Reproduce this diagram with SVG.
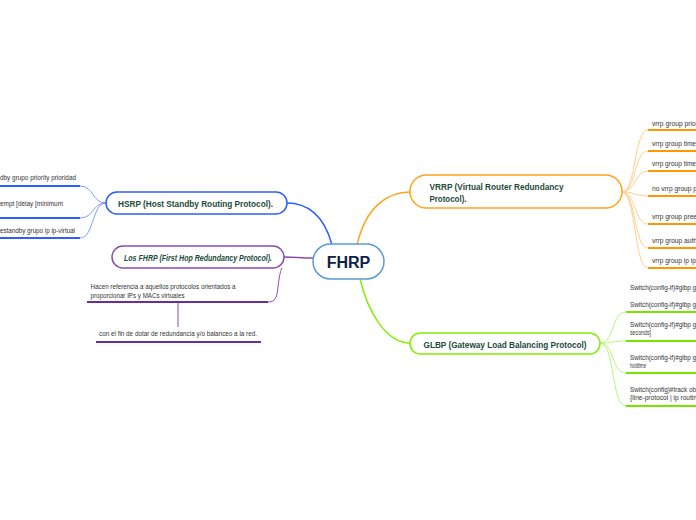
<svg xmlns="http://www.w3.org/2000/svg" width="696" height="520" viewBox="0 0 696 520">
<style>
.bg{fill:#ffffff}
.node{fill:#ffffff;stroke-width:1.5}
.t{font-family:"Liberation Sans",Arial,sans-serif;font-weight:bold;fill:#1b4a3a;font-size:9.5px}
.s{font-family:"Liberation Sans",Arial,sans-serif;fill:#333333;font-size:6.3px}
.ul{fill:none;stroke-width:2}
.c{fill:none;stroke-width:1.5}
.cc{fill:none;stroke-width:1}
</style>
<rect class="bg" x="0" y="0" width="696" height="520"/>
<g id="connectors">
  <path class="c" stroke="#2b5fff" d="M332,245 C324,214 306,203 287,203"/>
  <path class="c" stroke="#ffa31a" d="M357,245 C366,206 388,192 410,192"/>
  <path class="c" stroke="#8a4bb0" d="M313,258 C300,258 295,257 284,257"/>
  <path class="c" stroke="#80f000" d="M360,279 C368,312 386,343 410,343"/>
  <path class="cc" stroke="#7d9cff" d="M106,203 C92,203 94,186 80,186"/>
  <path class="cc" stroke="#7d9cff" d="M106,203 C92,203 94,218 80,218"/>
  <path class="cc" stroke="#7d9cff" d="M106,203 C92,203 94,238 80,238"/>
  <path class="cc" stroke="#ffcf8a" d="M622,192 C636,192 634,130 648,130"/>
  <path class="cc" stroke="#ffcf8a" d="M622,192 C636,192 634,151 648,151"/>
  <path class="cc" stroke="#ffcf8a" d="M622,192 C636,192 634,171 648,171"/>
  <path class="cc" stroke="#ffcf8a" d="M622,192 C636,192 634,196 648,196"/>
  <path class="cc" stroke="#ffcf8a" d="M622,192 C636,192 634,224 648,224"/>
  <path class="cc" stroke="#ffcf8a" d="M622,192 C636,192 634,248 648,248"/>
  <path class="cc" stroke="#ffcf8a" d="M622,192 C636,192 634,268 648,268"/>
  <path class="cc" stroke="#b4f77a" d="M600,343 C615,343 611,312 626,312"/>
  <path class="cc" stroke="#b4f77a" d="M600,343 C613,343 613,341 626,341"/>
  <path class="cc" stroke="#b4f77a" d="M600,343 C615,343 611,373 626,373"/>
  <path class="cc" stroke="#b4f77a" d="M600,343 C615,343 611,406 626,406"/>
  <path class="cc" stroke="#8a4bb0" d="M268,302 C276,302 277,296 278,287 C279,278 280,272 282,268"/>
  <path class="cc" stroke="#8a4bb0" d="M178,302 L178,327"/>
</g>
<g id="fhrp">
  <rect class="node" stroke="#5b9bd5" x="313" y="244" width="71" height="35" rx="17.5"/>
  <text x="348.5" y="268" text-anchor="middle" font-family="Liberation Sans, Arial, sans-serif" font-weight="bold" font-size="16" fill="#0e2247">FHRP</text>
</g>
<g id="hsrp">
  <rect class="node" stroke="#2b5fff" x="106" y="192" width="181" height="22" rx="11"/>
  <text class="t" x="118" y="206.5" textLength="155" lengthAdjust="spacingAndGlyphs">HSRP (Host Standby Routing Protocol).</text>
</g>
<g id="hsrp-c1">
  <text class="s" x="0" y="179.5" textLength="76" lengthAdjust="spacingAndGlyphs">dby grupo priority prioridad</text>
  <line class="ul" stroke="#2b5fff" x1="0" y1="186" x2="80" y2="186"/>
</g>
<g id="hsrp-c2">
  <text class="s" x="0" y="205.5" textLength="63" lengthAdjust="spacingAndGlyphs">empt [delay [minimum</text>
  <line class="ul" stroke="#2b5fff" x1="0" y1="218" x2="80" y2="218"/>
</g>
<g id="hsrp-c3">
  <text class="s" x="0" y="233" textLength="75" lengthAdjust="spacingAndGlyphs">estandby grupo ip ip-virtual</text>
  <line class="ul" stroke="#2b5fff" x1="0" y1="238" x2="80" y2="238"/>
</g>
<g id="los-fhrp">
  <rect class="node" stroke="#8a4bb0" x="112" y="246" width="172" height="22" rx="11"/>
  <text class="t" font-style="italic" x="124" y="261" textLength="148" lengthAdjust="spacingAndGlyphs">Los FHRP (First Hop Redundancy Protocol).</text>
</g>
<g id="hacen">
  <text class="s" x="90.5" y="289" textLength="145" lengthAdjust="spacingAndGlyphs">Hacen referencia a aquellos protocolos orientados a</text>
  <text class="s" x="90.5" y="297.5" textLength="94" lengthAdjust="spacingAndGlyphs">proporcionar IPs y MACs virtuales</text>
  <line class="ul" stroke="#6a2d9a" x1="87" y1="302" x2="268" y2="302"/>
</g>
<g id="con-el-fin">
  <text class="s" x="178" y="336" text-anchor="middle" textLength="158" lengthAdjust="spacingAndGlyphs">con el fin de dotar de redundancia y/o balanceo a la red.</text>
  <line class="ul" stroke="#6a2d9a" x1="96" y1="342" x2="261" y2="342"/>
</g>
<g id="vrrp">
  <rect class="node" stroke="#ffa31a" x="410" y="175" width="212" height="33" rx="16.5"/>
  <text class="t" x="429.5" y="190" textLength="134" lengthAdjust="spacingAndGlyphs">VRRP (Virtual Router Redundancy</text>
  <text class="t" x="429.5" y="201.5" textLength="37" lengthAdjust="spacingAndGlyphs">Protocol).</text>
</g>
<g id="vrrp-c1"><text class="s" x="652" y="125.5" textLength="46" lengthAdjust="spacingAndGlyphs">vrrp group prior</text><line class="ul" stroke="#ff9800" x1="648" y1="130" x2="696" y2="130"/></g>
<g id="vrrp-c2"><text class="s" x="652" y="145.5" textLength="44" lengthAdjust="spacingAndGlyphs">vrrp group time</text><line class="ul" stroke="#ff9800" x1="648" y1="151" x2="696" y2="151"/></g>
<g id="vrrp-c3"><text class="s" x="652" y="165.5" textLength="44" lengthAdjust="spacingAndGlyphs">vrrp group time</text><line class="ul" stroke="#ff9800" x1="648" y1="171" x2="696" y2="171"/></g>
<g id="vrrp-c4"><text class="s" x="652" y="190.5" textLength="45" lengthAdjust="spacingAndGlyphs">no vrrp group p</text><line class="ul" stroke="#ff9800" x1="648" y1="196" x2="696" y2="196"/></g>
<g id="vrrp-c5"><text class="s" x="652" y="219" textLength="45" lengthAdjust="spacingAndGlyphs">vrrp group pree</text><line class="ul" stroke="#ff9800" x1="648" y1="224" x2="696" y2="224"/></g>
<g id="vrrp-c6"><text class="s" x="652" y="242.5" textLength="45" lengthAdjust="spacingAndGlyphs">vrrp group auth</text><line class="ul" stroke="#ff9800" x1="648" y1="248" x2="696" y2="248"/></g>
<g id="vrrp-c7"><text class="s" x="652" y="262.5" textLength="46" lengthAdjust="spacingAndGlyphs">vrrp group ip ip-</text><line class="ul" stroke="#ff9800" x1="648" y1="268" x2="696" y2="268"/></g>
<g id="glbp">
  <rect class="node" stroke="#80f000" x="410" y="333" width="190" height="21" rx="10.5"/>
  <text class="t" x="423.5" y="347.5" textLength="163" lengthAdjust="spacingAndGlyphs">GLBP (Gateway Load Balancing Protocol)</text>
</g>
<g id="glbp-c1"><text class="s" x="630" y="289.5" textLength="66" lengthAdjust="spacingAndGlyphs">Switch(config-if)#glbp g</text></g>
<g id="glbp-c2"><text class="s" x="630" y="306.5" textLength="66" lengthAdjust="spacingAndGlyphs">Switch(config-if)#glbp g</text><line class="ul" stroke="#76e600" x1="626" y1="312" x2="696" y2="312"/></g>
<g id="glbp-c3"><text class="s" x="630" y="327" textLength="66" lengthAdjust="spacingAndGlyphs">Switch(config-if)#glbp g</text><text class="s" x="630" y="334.5" textLength="21" lengthAdjust="spacingAndGlyphs">seconds]</text><line class="ul" stroke="#76e600" x1="626" y1="341" x2="696" y2="341"/></g>
<g id="glbp-c4"><text class="s" x="630" y="360" textLength="66" lengthAdjust="spacingAndGlyphs">Switch(config-if)#glbp g</text><text class="s" x="630" y="368" textLength="16" lengthAdjust="spacingAndGlyphs">holdtime</text><line class="ul" stroke="#76e600" x1="626" y1="373" x2="696" y2="373"/></g>
<g id="glbp-c5"><text class="s" x="630" y="391.5" textLength="66" lengthAdjust="spacingAndGlyphs">Switch(config)#track ob</text><text class="s" x="630" y="400" textLength="67" lengthAdjust="spacingAndGlyphs">{line-protocol | ip routin</text><line class="ul" stroke="#76e600" x1="626" y1="406" x2="696" y2="406"/></g>
</svg>
